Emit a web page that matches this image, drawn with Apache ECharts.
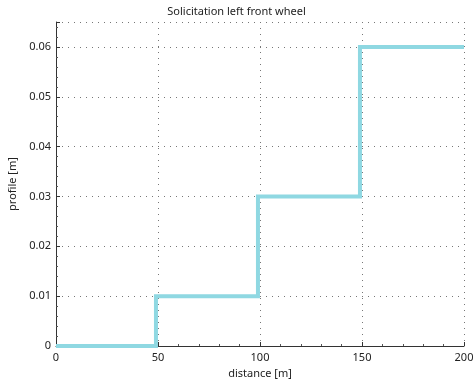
<!DOCTYPE html>
<html>
<head>
<meta charset="utf-8">
<script src="https://cdn.jsdelivr.net/npm/echarts@6/dist/echarts.min.js"></script>
<style>
  html, body { margin: 0; padding: 0; background: #fff; }
  #chart { width: 473px; height: 382px; }
</style>
</head>
<body>
<div id="chart"></div>
<script>
// Road profile under the left front wheel: a staircase of bumps
const distance = [0, 49, 49, 99, 99, 149, 149, 200];
const profile  = [0, 0, 0.01, 0.01, 0.03, 0.03, 0.06, 0.06];
const xTicks = [0, 50, 100, 150, 200];
const yTicks = [0, 0.01, 0.02, 0.03, 0.04, 0.05, 0.06];

const points = distance.map((d, i) => [d, profile[i]]);
const onYTick = v => yTicks.some(t => Math.abs(t - v) < 1e-9);

const font = 'Noto Sans';
const gridDots = { color: '#777', type: [1, 5], width: 1 };
const chart = echarts.init(document.getElementById('chart'));
chart.setOption({
  animation: false,
  title: {
    text: 'Solicitation left front wheel',
    left: 'center', top: 1,
    textStyle: { fontFamily: font, fontSize: 11, fontWeight: 'normal', color: '#222' }
  },
  grid: { left: 56, right: 9, top: 22, bottom: 36, outerBoundsMode: 'none', containLabel: false },
  xAxis: {
    type: 'value',
    min: xTicks[0], max: xTicks[xTicks.length - 1], interval: 50,
    name: 'distance [m]', nameLocation: 'middle', nameGap: 21,
    nameTextStyle: { fontFamily: font, fontSize: 11, color: '#222' },
    axisLine: { lineStyle: { color: '#333', width: 1 } },
    axisTick: { inside: true, length: 4, lineStyle: { color: '#333' } },
    minorTick: { show: true, splitNumber: 5, length: 2, lineStyle: { color: '#555' } },
    axisLabel: { fontFamily: font, fontSize: 11, color: '#222', margin: 6 },
    splitLine: { show: true, lineStyle: gridDots }
  },
  yAxis: {
    type: 'value',
    min: 0, max: 0.065, interval: 0.01,
    name: 'profile [m]', nameLocation: 'middle', nameGap: 37,
    nameTextStyle: { fontFamily: font, fontSize: 11, color: '#222' },
    axisLine: { show: true, lineStyle: { color: '#333', width: 1 } },
    axisTick: { show: true, inside: true, length: 4, lineStyle: { color: '#333' },
                interval: (i, v) => onYTick(Number(v)) },
    minorTick: { show: true, splitNumber: 5, length: 2, lineStyle: { color: '#555' } },
    axisLabel: { fontFamily: font, fontSize: 11, color: '#222', margin: 5,
                 showMaxLabel: false,
                 formatter: v => onYTick(v) ? String(+v.toFixed(2)) : '' },
    splitLine: { show: true, lineStyle: gridDots,
                 interval: (i, v) => onYTick(Number(v)) && Number(v) > 0 }
  },
  series: [{
    type: 'line',
    data: points,
    showSymbol: false,
    lineStyle: { color: '#8fd8e2', width: 4, join: 'miter' },
    clip: false
  }]
});
</script>
</body>
</html>
